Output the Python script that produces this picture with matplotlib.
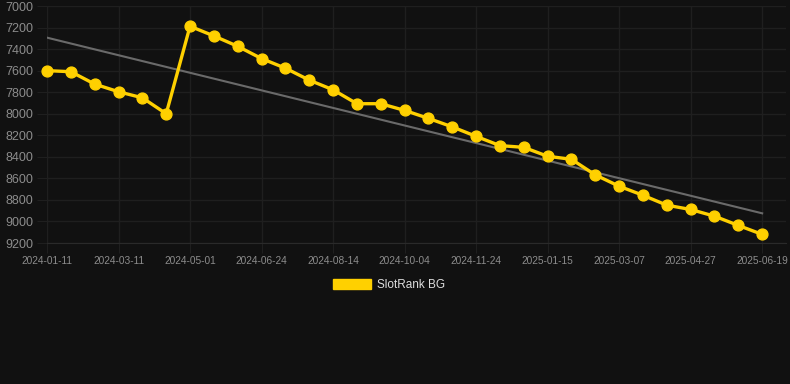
import numpy as np
import matplotlib
matplotlib.use("Agg")
import matplotlib.pyplot as plt
from matplotlib.patches import Patch

plt.rcParams['font.family'] = ['Liberation Sans', 'DejaVu Sans']

series_name = "SlotRank BG"
rank_values = [7600, 7610, 7725, 7796, 7852, 8000, 7188, 7278, 7374, 7488,
               7577, 7688, 7778, 7907, 7907, 7969, 8043, 8122, 8210, 8296,
               8312, 8395, 8423, 8568, 8673, 8757, 8849, 8889, 8951, 9037, 9120]
tick_labels = ["2024-01-11", "2024-03-11", "2024-05-01", "2024-06-24", "2024-08-14",
               "2024-10-04", "2024-11-24", "2025-01-15", "2025-03-07", "2025-04-27",
               "2025-06-19"]
tick_step = 3
y_ticks = [7000, 7200, 7400, 7600, 7800, 8000, 8200, 8400, 8600, 8800, 9000, 9200]

bg = "#111111"
grid_c = "#1f1f1f"
text_c = "#8c8c8c"
gold = "#FFD000"
trend_c = "#6a6a6a"

W, H = 790, 384
fig = plt.figure(figsize=(W / 100, H / 100), dpi=100, facecolor=bg)
ax = fig.add_axes([47 / W, (H - 243) / H, (786 - 47) / W, (243 - 6) / H], facecolor=bg)

x = np.arange(len(rank_values))
y = np.array(rank_values, dtype=float)

coef = np.polyfit(x, y, 1)
ax.plot(x, np.polyval(coef, x), color=trend_c, lw=1.5, zorder=2)
ax.plot(x, y, color=gold, lw=2.4, marker='o', markersize=7.8, zorder=3, clip_on=False)

ax.set_xlim(0, 31)
ax.set_ylim(9200, 7000)
ax.set_yticks(y_ticks)
ax.set_yticklabels([str(v) for v in y_ticks])
ax.set_xticks(x[::tick_step])
ax.set_xticklabels(tick_labels)

ax.grid(True, color=grid_c, lw=1)
ax.set_axisbelow(True)
for s in ['top', 'right', 'left']:
    ax.spines[s].set_visible(False)
ax.spines['bottom'].set_color("#2a2a2a")
ax.tick_params(axis='y', length=7, color=grid_c, labelcolor=text_c, labelsize=9, pad=3)
ax.tick_params(axis='x', length=7, color=grid_c, labelcolor=text_c, labelsize=7.3, pad=2)

handle = Patch(facecolor=gold, edgecolor=gold)
fig.legend([handle], [series_name], loc='center', bbox_to_anchor=(389 / W, (H - 285) / H),
           frameon=False, labelcolor="#dddddd", fontsize=8.5, handlelength=3.3,
           handleheight=1.0, handletextpad=0.5)

fig.savefig("out.png", dpi=100, facecolor=bg)
